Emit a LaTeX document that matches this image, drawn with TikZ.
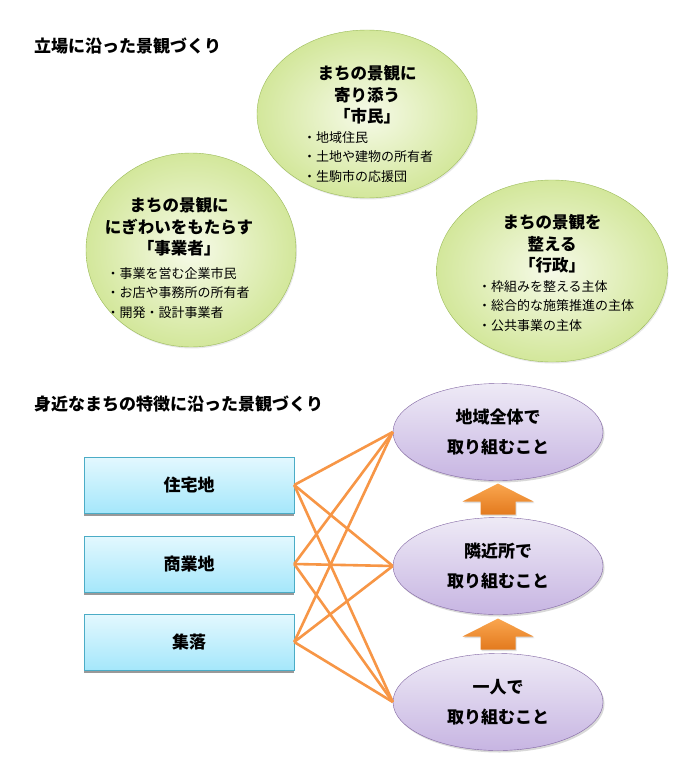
\documentclass[tikz,border=0pt]{standalone}
\usepackage{fontspec}
\setmainfont{Noto Sans CJK JP}
\usepackage{xcolor}
\usepackage{tikz}
\usetikzlibrary{positioning,shapes.geometric,shadows,calc}

\definecolor{grnedge}{HTML}{9BBB59}
\definecolor{grnin}{HTML}{F6FAE8}
\definecolor{grnout}{HTML}{D3E79B}
\definecolor{cyanedge}{HTML}{4BACC6}
\definecolor{cyantop}{HTML}{E3F8FE}
\definecolor{cyanbot}{HTML}{A5E7FB}
\definecolor{purpedge}{HTML}{8064A2}
\definecolor{purptop}{HTML}{EEEAF6}
\definecolor{purpbot}{HTML}{C7B5E2}
\definecolor{linkorg}{HTML}{F79646}
\definecolor{arrtop}{HTML}{FAA64F}
\definecolor{arrbot}{HTML}{E37A1E}

\begin{document}
\begin{tikzpicture}[x=1pt, y=-1pt,
  view/.style={draw=grnedge, ellipse, inner sep=0pt, inner color=grnin, outer color=grnout,
               drop shadow={shadow xshift=1pt, shadow yshift=-1.5pt, fill=black!18}},
  head/.style={font=\fontsize{16.5}{21.5}\selectfont\bfseries, align=center, inner sep=0pt},
  item/.style={font=\fontsize{13}{19.5}\selectfont, align=left, inner sep=0pt},
  title/.style={font=\fontsize{17}{20}\selectfont\bfseries, anchor=west, inner sep=0pt},
  area/.style={draw=cyanedge, rectangle, minimum width=210pt, minimum height=56pt,
               top color=cyantop, bottom color=cyanbot, font=\fontsize{17}{20}\selectfont\bfseries,
               drop shadow={shadow xshift=0pt, shadow yshift=-3pt, fill=black!40, opacity=1}},
  lvl/.style={draw=purpedge, ellipse, minimum width=210pt, minimum height=97pt, inner sep=0pt,
              top color=purptop, bottom color=purpbot, align=center,
              font=\fontsize{17}{30}\selectfont\bfseries,
              drop shadow={shadow xshift=1.5pt, shadow yshift=-2pt, fill=black!30}},
  link/.style={draw=linkorg, line width=2.6pt},
  uparr/.style={top color=arrtop, bottom color=arrbot, draw=none,
                drop shadow={shadow xshift=1pt, shadow yshift=-1.5pt, fill=black!25}},
]
\fill[white] (0,0) rectangle (700,757);
\useasboundingbox (0,0) rectangle (700,757);

\node[title] (t1) at (34,46) {立場に沿った景観づくり};

\node[view, minimum width=220pt, minimum height=168pt] (sm) at (367,114) {};
\node[view, minimum width=210pt, minimum height=194pt] (jg) at (191,250) {};
\node[view, minimum width=231pt, minimum height=182pt] (gs) at (552,271) {};

\node[head] (smH) at (367,95)  {まちの景観に\\寄り添う\\「市民」};
\node[item] (smL) at (368,157) {・地域住民\\・土地や建物の所有者\\・生駒市の応援団};
\node[head] (jgH) at (179,227) {まちの景観に\\にぎわいをもたらす\\「事業者」};
\node[item] (jgL) at (178,293) {・事業を営む企業市民\\・お店や事務所の所有者\\・開発・設計事業者};
\node[head] (gsH) at (552,244) {まちの景観を\\整える\\「行政」};
\node[item] (gsL) at (556,306) {・枠組みを整える主体\\・総合的な施策推進の主体\\・公共事業の主体};

\node[title] (t2) at (34,404) {身近なまちの特徴に沿った景観づくり};

\node[area] (b1) at (189,485) {住宅地};
\node[area] (b2) at (189,564) {商業地};
\node[area] (b3) at (189,642) {集落};

\node[lvl] (e1) at (498,432) {地域全体で\\取り組むこと};
\node[lvl] (e2) at (498,566) {隣近所で\\取り組むこと};
\node[lvl] (e3) at (498,702) {一人で\\取り組むこと};

\foreach \b in {b1,b2,b3}{ \foreach \e in {e1,e2,e3}{ \draw[link] (\b.east) -- (\e.west); } }

\coordinate (u1) at ($(e1.south)!0.5!(e2.north)$);
\coordinate (u2) at ($(e2.south)!0.5!(e3.north)$);
\foreach \u in {u1,u2}{
  \path[uparr] ($(\u)+(-17.5,15.5)$) -- ++(0,-13) -- ++(-18,0) -- ($(\u)+(0,-15.5)$)
    -- ($(\u)+(35.5,2.5)$) -- ++(-18,0) -- ++(0,13) -- cycle;
}
\end{tikzpicture}
\end{document}
